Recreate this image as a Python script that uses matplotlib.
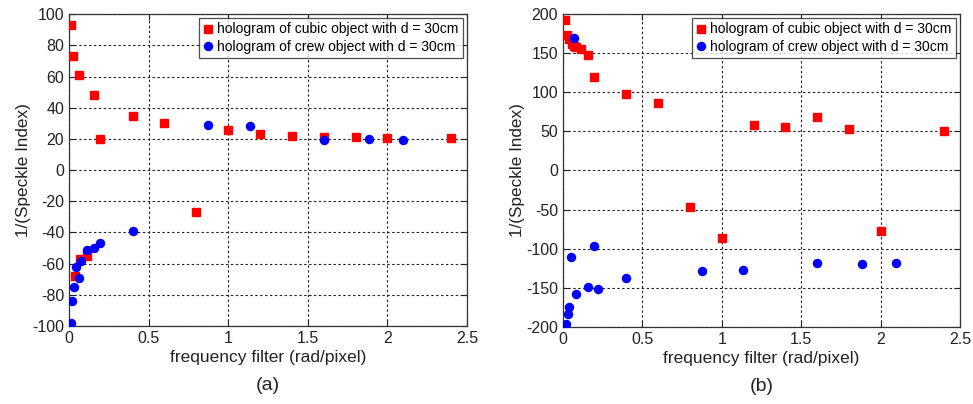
import numpy as np
import matplotlib.pyplot as plt

plt.rcParams['font.family'] = ['Liberation Sans', 'DejaVu Sans']
plt.rcParams['axes.unicode_minus'] = False

# (a) cubic object
xa_cubic = [0.01, 0.025, 0.04, 0.063, 0.07, 0.115, 0.157, 0.195, 0.4, 0.6, 0.8,
            1.0, 1.2, 1.4, 1.6, 1.8, 2.0, 2.4]
ya_cubic = [93, 73, -68, 61, -57, -55, 48, 20, 35, 30, -27,
            26, 23, 22, 21.5, 21, 20.5, 20.5]
# (a) crew object
xa_crew = [0.01, 0.02, 0.03, 0.045, 0.063, 0.075, 0.115, 0.157, 0.195, 0.4,
           0.875, 1.137, 1.6, 1.885, 2.1]
ya_crew = [-98, -84, -75, -62, -69, -58.5, -51, -49.7, -47, -39,
           29, 28, 19.5, 20, 19.5]

# (b) cubic object
xb_cubic = [0.01, 0.025, 0.04, 0.055, 0.07, 0.085, 0.115, 0.155, 0.195, 0.4, 0.6,
            0.8, 1.0, 1.2, 1.4, 1.6, 1.8, 2.0, 2.4]
yb_cubic = [193, 173, 168, 162, 159, 158, 155, 148, 120, 98, 86,
            -47, -86, 58, 56, 69, 53, -77, 51]
# (b) crew object
xb_crew = [0.019, 0.03, 0.036, 0.052, 0.07, 0.082, 0.155, 0.197, 0.218, 0.4,
           0.875, 1.135, 1.6, 1.88, 2.1]
yb_crew = [-197, -184, -174, -111, 169, -158, -149, -96.5, -151, -138,
           -128, -127.5, -118, -119.5, -118]

label_cubic = 'hologram of cubic object with d = 30cm'
label_crew = 'hologram of crew object with d = 30cm'

fig = plt.figure(figsize=(9.73, 4.04), dpi=100, facecolor='white')
ax1 = fig.add_axes([0.0709, 0.193, 0.409, 0.772])
ax2 = fig.add_axes([0.5786, 0.191, 0.408, 0.774])


def style(ax, ylim, yticks, tag):
    ax.plot(xs_c, ys_c, 's', color='#ff0000', ms=6, mec='#ff0000',
            label=label_cubic, zorder=3)
    ax.plot(xs_b, ys_b, 'o', color='#0000ff', ms=5.8, mec='#0000ff',
            label=label_crew, zorder=3)
    ax.set_xlim(0, 2.5)
    ax.set_ylim(*ylim)
    ax.set_xticks([0, 0.5, 1, 1.5, 2, 2.5])
    ax.set_xticklabels(['0', '0.5', '1', '1.5', '2', '2.5'])
    ax.set_yticks(yticks)
    ax.grid(True, color='#222222', linestyle=(0, (2.2, 2.2)), linewidth=0.8)
    ax.tick_params(direction='in', length=4, labelsize=11.5, colors='#222222',
                   top=True, right=True)
    for sp in ax.spines.values():
        sp.set_color('#333333')
        sp.set_linewidth(0.9)
    ax.set_xlabel('frequency filter (rad/pixel)', fontsize=12.5, labelpad=3,
                  color='#222222')
    ax.set_ylabel('1/(Speckle Index)', fontsize=12.3, labelpad=1,
                  color='#222222')
    leg = ax.legend(loc='upper right', fontsize=10, frameon=True, fancybox=False,
                    handlelength=0.6, handletextpad=0.4, borderpad=0.3,
                    labelspacing=0.25, borderaxespad=0.3, edgecolor='#222222')
    leg.get_frame().set_linewidth(0.9)
    ax.text(0.5, -0.165, tag, transform=ax.transAxes, ha='center', va='top',
            fontsize=14, color='#222222')


xs_c, ys_c, xs_b, ys_b = xa_cubic, ya_cubic, xa_crew, ya_crew
style(ax1, (-100, 100), np.arange(-100, 101, 20), '(a)')
xs_c, ys_c, xs_b, ys_b = xb_cubic, yb_cubic, xb_crew, yb_crew
style(ax2, (-200, 200), np.arange(-200, 201, 50), '(b)')

fig.savefig('out.png', dpi=100, facecolor='white')
